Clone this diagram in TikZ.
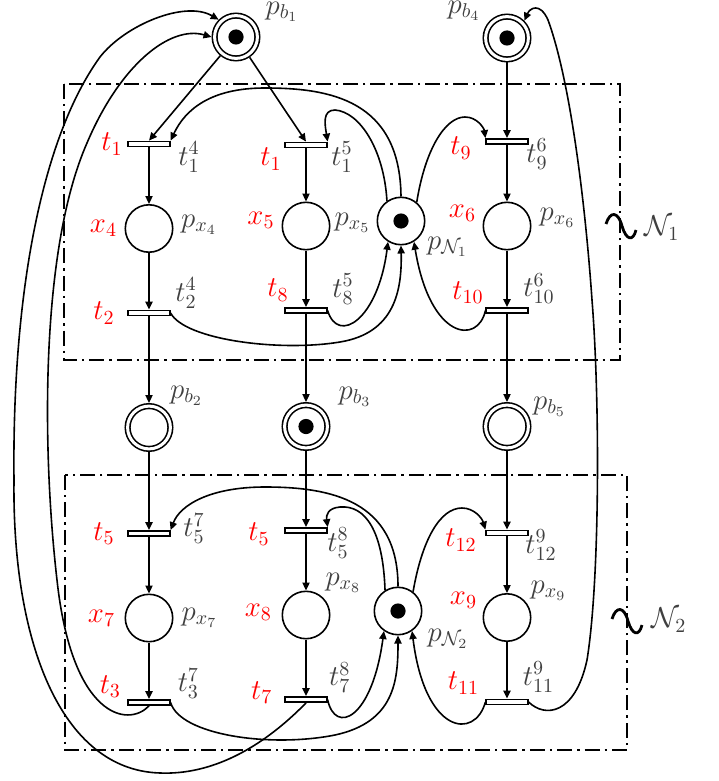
\documentclass[tikz,border=0pt]{standalone}
\usepackage{amsmath}
\usepackage{amssymb}
\usepackage{xcolor}
\usepackage{tikz}
\usetikzlibrary{arrows.meta,positioning}

\begin{document}
\begin{tikzpicture}[
    x=0.5pt, y=-0.5pt,
    on grid,
    node distance=42.25pt,
    place/.style={
      circle, draw, line width=0.8pt, minimum size=23.7pt, inner sep=0pt
    },
    bplace/.style={
      circle, draw, double, double distance=1.5pt, line width=0.8pt,
      minimum size=21.4pt, inner sep=0pt, outer sep=1.55pt
    },
    marked/.style={path picture={\fill (path picture bounding box.center) circle (3.8pt);}},
    trans/.style={
      rectangle, draw, fill=white, line width=0.8pt,
      minimum width=20.8pt, minimum height=2.6pt, inner sep=0pt
    },
    redlab/.style={text=red, font=\Large},
    greylab/.style={text=black!75, font=\Large},
    arc/.style={-{Triangle[length=4pt,width=3.6pt]}, line width=0.8pt},
    netframe/.style={line width=0.75pt, dash pattern=on 7.5pt off 2.5pt on 1.2pt off 2.5pt}
  ]
    \useasboundingbox (0,0) rectangle (718,781);

    % ── Frames of the two subnets ──
    \draw[netframe] (64,84) rectangle (620,360);
    \draw[netframe] (65,475) rectangle (627,750);

    % ── Boundary places on top ──
    \node[bplace, marked] (pb1) at (236,37) {};
    \node[bplace, marked] (pb4) at (507,38) {};

    % ── Left column ──
    \node[trans] (t14) at (149,144) {};
    \node[place, below=of t14] (px4) {};
    \node[trans, below=of px4] (t24) {};
    \node[bplace, below=57.25pt of t24] (pb2) {};
    \node[trans, below=53pt of pb2] (t57) {};
    \node[place, below=of t57] (px7) {};
    \node[trans, below=of px7] (t37) {};

    % ── Middle column ──
    \node[trans] (t15) at (306,145) {};
    \node[place, below=40.5pt of t15] (px5) {};
    \node[trans, below=of px5] (t85) {};
    \node[bplace, marked, below=58pt of t85] (pb3) {};
    \node[trans, below=52pt of pb3] (t58) {};
    \node[place, below=of t58] (px8) {};
    \node[trans, below=of px8] (t78) {};

    % ── Right column ──
    \node[trans, below=51.75pt of pb4] (t96) {};
    \node[place, below=of t96] (px6) {};
    \node[trans, below=of px6] (t106) {};
    \node[bplace, below=58pt of t106] (pb5) {};
    \node[trans, below=53.25pt of pb5] (t129) {};
    \node[place, below=of t129] (px9) {};
    \node[trans, below=of px9] (t119) {};

    % ── Resource places ──
    \node[place, marked] (pN1) at (401,221) {};
    \node[place, marked] (pN2) at (398,611) {};

    % ── Red labels ──
    \node[redlab, left=18.5pt of t14] (rt14) {$t_1$};
    \node[redlab, below left=7pt and 17.5pt of t15] (rt15) {$t_1$};
    \node[redlab, below left=3.25pt and 23pt of t96] (rt96) {$t_9$};
    \node[redlab, left=22.75pt of px4] (rx4) {$x_4$};
    \node[redlab, above left=3pt and 22.5pt of px5] (rx5) {$x_5$};
    \node[redlab, above left=6.25pt and 22.25pt of px6] (rx6) {$x_6$};
    \node[redlab, left=22.5pt of t24] (rt24) {$t_2$};
    \node[redlab, above left=10.25pt and 14pt of t85] (rt85) {$t_8$};
    \node[redlab, above left=9pt and 19.5pt of t106] (rt106) {$t_{10}$};
    \node[redlab, left=22.5pt of t57] (rt57) {$t_5$};
    \node[redlab, below left=1.75pt and 23.5pt of t58] (rt58) {$t_5$};
    \node[redlab, below left=3.5pt and 23pt of t129] (rt129) {$t_{12}$};
    \node[redlab, left=23.75pt of px7] (rx7) {$x_7$};
    \node[redlab, above left=1.5pt and 23.85pt of px8] (rx8) {$x_8$};
    \node[redlab, above left=8.75pt and 21.75pt of px9] (rx9) {$x_9$};
    \node[redlab, above left=8pt and 19.3pt of t37] (rt37) {$t_3$};
    \node[redlab, above left=3.5pt and 22.15pt of t78] (rt78) {$t_7$};
    \node[redlab, above left=9.5pt and 21.75pt of t119] (rt119) {$t_{11}$};

    % ── Grey labels ──
    \node[greylab, above right=12.5pt and 23pt of pb1] (lpb1) {$p_{b_1}$};
    \node[greylab, above left=13.5pt and 21.5pt of pb4] (lpb4) {$p_{b_4}$};
    \node[greylab, below right=6.5pt and 20pt of t14] (lt14) {$t_1^4$};
    \node[greylab, below right=6pt and 18pt of t15] (lt15) {$t_1^5$};
    \node[greylab, below right=6.25pt and 15pt of t96] (lt96) {$t_9^6$};
    \node[greylab, above right=2pt and 25pt of px4] (lpx4) {$p_{x_4}$};
    \node[greylab, above right=1.5pt and 23.25pt of px5] (lpx5) {$p_{x_5}$};
    \node[greylab, above right=4.25pt and 25.25pt of px6] (lpx6) {$p_{x_6}$};
    \node[greylab, below right=12.85pt and 23.25pt of pN1] (lpN1) {$p_{\mathcal{N}_1}$};
    \node[greylab, above right=10pt and 18.5pt of t24] (lt24) {$t_2^4$};
    \node[greylab, above right=10.75pt and 18.5pt of t85] (lt85) {$t_8^5$};
    \node[greylab, above right=11pt and 16pt of t106] (lt106) {$t_{10}^6$};
    \node[greylab, above right=15.75pt and 18.75pt of pb2] (lpb2) {$p_{b_2}$};
    \node[greylab, above right=14.75pt and 24.5pt of pb3] (lpb3) {$p_{b_3}$};
    \node[greylab, above right=9.75pt and 21.25pt of pb5] (lpb5) {$p_{b_5}$};
    \node[greylab, above right=2.5pt and 22.5pt of t57] (lt57) {$t_5^7$};
    \node[greylab, below right=6.25pt and 16pt of t58] (lt58) {$t_5^8$};
    \node[greylab, below right=6pt and 17pt of t129] (lt129) {$t_{12}^9$};
    \node[greylab, right=25.25pt of px7] (lpx7) {$p_{x_7}$};
    \node[greylab, above right=16pt and 18.65pt of px8] (lpx8) {$p_{x_8}$};
    \node[greylab, above right=13.25pt and 20.75pt of px9] (lpx9) {$p_{x_9}$};
    \node[greylab, below right=14pt and 25pt of pN2] (lpN2) {$p_{\mathcal{N}_2}$};
    \node[greylab, above right=9.5pt and 19.7pt of t37] (lt37) {$t_3^7$};
    \node[greylab, above right=11pt and 16.85pt of t78] (lt78) {$t_7^8$};
    \node[greylab, above right=12.5pt and 15.75pt of t119] (lt119) {$t_{11}^9$};

    % ── Subnet names ──
    \draw[line width=1.4pt] (606,224) .. controls (610,211) and (618,211) .. (622,226)
      .. controls (626,240) and (633,242) .. (636,230);
    \node[greylab] (lN1) at (662,228) {$\mathcal{N}_1$};
    \draw[line width=1.4pt] (612,619) .. controls (616,606) and (624,606) .. (628,621)
      .. controls (632,635) and (639,637) .. (642,625);
    \node[greylab] (lN2) at (669,620) {$\mathcal{N}_2$};

    % ── Straight arcs ──
    \draw[arc] (pb1) -- (t14.north);
    \draw[arc] (pb1) -- (t15.north);
    \draw[arc] (pb4) -- (t96);
    \draw[arc] (t14) -- (px4);
    \draw[arc] (px4) -- (t24);
    \draw[arc] (t24) -- (pb2);
    \draw[arc] (pb2) -- (t57);
    \draw[arc] (t57) -- (px7);
    \draw[arc] (px7) -- (t37);
    \draw[arc] (t15) -- (px5);
    \draw[arc] (px5) -- (t85);
    \draw[arc] (t85) -- (pb3);
    \draw[arc] (pb3) -- (t58);
    \draw[arc] (t58) -- (px8);
    \draw[arc] (px8) -- (t78);
    \draw[arc] (t96) -- (px6);
    \draw[arc] (px6) -- (t106);
    \draw[arc] (t106) -- (pb5);
    \draw[arc] (pb5) -- (t129);
    \draw[arc] (t129) -- (px9);
    \draw[arc] (px9) -- (t119);

    % ── Resource loops of N1 ──
    \draw[arc] (pN1.north) .. controls (400,100) and (330,88) .. (265,88)
      .. controls (210,88) and (185,110) .. (t14.north east);
    \draw[arc] (pN1.125) .. controls (384,150) and (360,112) .. (335,110)
      .. controls (322,110) and (325,125) .. (t15.north east);
    \draw[arc] (pN1.50) .. controls (425,150) and (445,117) .. (465,117)
      .. controls (477,117) and (484,128) .. (t96.north west);
    \draw[arc] (t24.east) .. controls (185,340) and (280,352) .. (340,342)
      .. controls (395,333) and (402,290) .. (pN1.south);
    \draw[arc] (t85.east) .. controls (338,345) and (378,320) .. (pN1.238);
    \draw[arc] (t106.west) .. controls (478,345) and (430,340) .. (pN1.302);

    % ── Resource loops of N2 ──
    \draw[arc] (pN2.north) .. controls (398,500) and (330,487) .. (265,487)
      .. controls (210,487) and (180,505) .. (t57.north east);
    \draw[arc] (pN2.122) .. controls (383,530) and (365,505) .. (340,507)
      .. controls (328,508) and (326,515) .. (t58.north east);
    \draw[arc] (pN2.52) .. controls (422,540) and (440,508) .. (462,508)
      .. controls (474,508) and (482,518) .. (t129.north west);
    \draw[arc] (t37.east) .. controls (180,735) and (270,748) .. (335,735)
      .. controls (395,722) and (398,680) .. (pN2.south);
    \draw[arc] (t78.east) .. controls (335,735) and (372,720) .. (pN2.235);
    \draw[arc] (t119.west) .. controls (475,740) and (425,735) .. (pN2.305);

    % ── Long arcs back to the top ──
    \draw[arc] (t37.south) .. controls (128,728) and (72,718) .. (57,580)
      .. controls (42,450) and (40,250) .. (87,143)
      .. controls (120,65) and (170,25) .. (pb1.west);
    \draw[arc] (t78.south) .. controls (260,750) and (210,775) .. (160,773)
      .. controls (60,770) and (12,640) .. (14,480)
      .. controls (12,300) and (40,140) .. (100,57)
      .. controls (125,25) and (185,0) .. (pb1.north west);
    \draw[arc] (t119.east) .. controls (545,718) and (575,715) .. (587,660)
      .. controls (600,580) and (600,400) .. (592,300)
      .. controls (585,200) and (570,80) .. (548,20)
      .. controls (540,2) and (530,8) .. (pb4.north east);
  \end{tikzpicture}
\end{document}
